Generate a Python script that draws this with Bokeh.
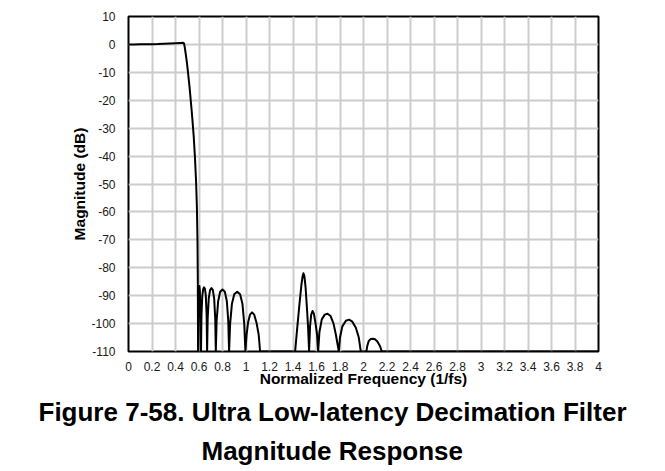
from bokeh.plotting import figure
from bokeh.models import FixedTicker, Title, Range1d
from bokeh.embed import file_html
from bokeh.resources import INLINE

# Magnitude response (dB), clipped at -110 dB
freq = [0.0, 0.05, 0.1, 0.15, 0.2, 0.25, 0.3, 0.35, 0.4, 0.44, 0.465, 0.472,
        0.478, 0.485, 0.495, 0.505, 0.52, 0.535, 0.545, 0.555, 0.565, 0.575,
        0.582, 0.587, 0.59, 0.592,
        0.595, 0.599, 0.603, 0.607, 0.611, 0.615,
        0.617, 0.621, 0.628, 0.636, 0.643, 0.651, 0.658, 0.665, 0.669,
        0.674, 0.683, 0.694, 0.706, 0.718, 0.729, 0.738, 0.743,
        0.750, 0.763, 0.780, 0.800, 0.820, 0.837, 0.849, 0.856,
        0.865, 0.880, 0.900, 0.925, 0.950, 0.970, 0.985, 0.995,
        1.005, 1.018, 1.035, 1.052, 1.070, 1.090, 1.108, 1.120,
        1.418, 1.435, 1.455, 1.472, 1.482, 1.489, 1.497, 1.507, 1.518, 1.528, 1.537,
        1.545, 1.555, 1.566, 1.578, 1.592, 1.605, 1.614,
        1.625, 1.645, 1.670, 1.694, 1.720, 1.745, 1.765, 1.790,
        1.800, 1.820, 1.850, 1.877, 1.905, 1.935, 1.960, 1.977,
        2.025, 2.032, 2.045, 2.062, 2.080, 2.098, 2.118, 2.140, 2.155,
        4.0]
mag = [0.0, 0.0, 0.02, 0.05, 0.1, 0.15, 0.25, 0.35, 0.45, 0.55, 0.6, 0.4,
       -0.8, -2.8, -5.8, -9.5, -15.5, -22.5, -27.5, -33.0, -40.0, -49.0,
       -58.0, -70.0, -85.0, -110.0,
       -95.0, -88.0, -86.5, -88.0, -95.0, -110.0,
       -110.0, -97.0, -90.0, -87.6, -87.0, -87.6, -90.0, -97.0, -110.0,
       -98.0, -91.0, -88.0, -87.3, -88.0, -91.0, -98.0, -110.0,
       -99.0, -92.0, -88.6, -87.8, -88.6, -92.0, -99.0, -110.0,
       -100.0, -93.0, -89.5, -88.6, -89.5, -93.0, -100.0, -110.0,
       -104.0, -99.5, -96.7, -96.0, -96.8, -99.8, -104.0, -110.0,
       -110.0, -102.0, -93.0, -86.0, -83.0, -82.0, -83.0, -87.0, -94.0, -101.0, -110.0,
       -101.0, -96.8, -95.5, -96.5, -100.0, -104.0, -110.0,
       -103.0, -98.5, -96.8, -96.5, -97.3, -100.0, -104.0, -110.0,
       -105.0, -101.0, -99.0, -98.6, -99.3, -101.5, -105.0, -110.0,
       -110.0, -108.0, -106.2, -105.5, -105.4, -105.6, -106.4, -108.0, -110.0,
       -110.0]

x_ticks = [0, 0.2, 0.4, 0.6, 0.8, 1, 1.2, 1.4, 1.6, 1.8, 2, 2.2, 2.4, 2.6,
           2.8, 3, 3.2, 3.4, 3.6, 3.8, 4]
x_tick_labels = ["0", "0.2", "0.4", "0.6", "0.8", "1", "1.2", "1.4", "1.6",
                 "1.8", "2", "2.2", "2.4", "2.6", "2.8", "3", "3.2", "3.4",
                 "3.6", "3.8", "4"]
y_ticks = [-110, -100, -90, -80, -70, -60, -50, -40, -30, -20, -10, 0, 10]
y_tick_labels = ["-110", "-100", "-90", "-80", "-70", "-60", "-50", "-40",
                 "-30", "-20", "-10", "0", "10"]

x_label = "Normalized Frequency (1/fs)"
y_label = "Magnitude (dB)"
caption_1 = "Figure 7-58. Ultra Low-latency Decimation Filter"
caption_2 = "Magnitude Response"

FONT = "Liberation Sans"

p = figure(width=658, height=466, output_backend="svg", toolbar_location=None,
           x_range=Range1d(0, 4), y_range=Range1d(-110, 10),
           min_border_left=128, min_border_right=60, min_border_top=16,
           min_border_bottom=100, background_fill_color="white",
           border_fill_color="white")

p.line(freq, mag, line_color="black", line_width=2, line_join="round")

p.xaxis.ticker = FixedTicker(ticks=x_ticks)
p.xaxis.major_label_overrides = {t: s for t, s in zip(x_ticks, x_tick_labels)}
p.yaxis.ticker = FixedTicker(ticks=y_ticks)
p.yaxis.major_label_overrides = {t: s for t, s in zip(y_ticks, y_tick_labels)}
p.xgrid.ticker = FixedTicker(ticks=x_ticks)
p.ygrid.ticker = FixedTicker(ticks=y_ticks)

for ax in (p.xaxis[0], p.yaxis[0]):
    ax.axis_line_color = None
    ax.major_tick_line_color = None
    ax.minor_tick_line_color = None
    ax.major_label_text_font = FONT
    ax.major_label_text_font_size = "12px"
    ax.major_label_text_color = "#1a1a1a"
    ax.axis_label_text_font = FONT
    ax.axis_label_text_font_style = "bold"
    ax.axis_label_text_font_size = "15.5px"
    ax.axis_label_text_color = "black"

p.xaxis.axis_label = x_label
p.yaxis.axis_label = y_label
p.xaxis.major_label_standoff = 4
p.xaxis.axis_label_standoff = -4
p.yaxis.major_label_standoff = 7
p.yaxis.axis_label_standoff = 0

p.grid.grid_line_color = "#cccccc"
p.grid.grid_line_width = 2
p.outline_line_color = "black"
p.outline_line_width = 2

t1 = Title(text=caption_1, align="left", offset=-90, text_font=FONT,
           text_font_style="bold", text_font_size="26px", text_color="black",
           standoff=11)
t2 = Title(text=caption_2, align="left", offset=73, text_font=FONT,
           text_font_style="bold", text_font_size="26px", text_color="black",
           standoff=2)
p.add_layout(t1, "below")
p.add_layout(t2, "below")

open("out.html", "w").write(file_html(p, INLINE))
